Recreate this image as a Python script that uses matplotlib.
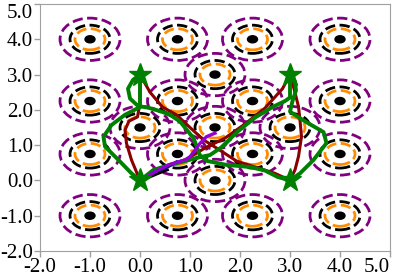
import numpy as np
import matplotlib
matplotlib.use("Agg")
import matplotlib.pyplot as plt
from matplotlib.patches import Circle

plt.rcParams['font.family'] = ['Liberation Serif', 'DejaVu Serif']

# obstacle centres
grid_vals = [-1.0, 0.75, 2.25, 4.0]
inner_x = [1.5, 0.0, 1.5, 3.0, 1.5]
inner_y = [3.0, 1.5, 1.5, 1.5, 0.0]
ring_radius = [0.6, 0.4, 0.3]
ring_color = ['purple', 'black', 'darkorange']
dot_radius = 0.1

# goal stars
star_x = [0, 3, 0, 3]
star_y = [3, 3, 0, 0]

# reference path (dark red)
red_x = [0, -0.17, -0.27, -0.3, -0.22, -0.05, 0, 0, 0.2, 0.45, 0.73, 1.0, 1.27, 1.55,
         1.93, 2.3, 2.7, 3, 3.1, 3.17, 3.23, 3.2, 3.17, 3.08, 3, 2.85, 2.5, 2.1, 1.7,
         1.3, 0.93, 0.6, 0.25, 0]
red_y = [0, 0.58, 1.05, 1.43, 1.68, 1.8, 2.2, 3, 2.5, 2.08, 1.86, 1.5, 1.15, 0.9,
         0.55, 0.38, 0.2, 0, 0.3, 0.68, 1.24, 1.7, 2.09, 2.6, 3, 2.6, 2.05, 1.6, 1.2,
         0.92, 0.6, 0.44, 0.2, 0]

# executed path (green)
green_x = [0.6, 0.43, 0.17, 0, 0, 0, -0.14, -0.24, -0.2, -0.07, 0, -0.3, -0.57, -0.73,
           -0.7, -0.43, -0.17, 0, 0.27, 0.6, 0.93, 1.2, 1.4, 1.62, 1.95, 2.3, 2.65,
           2.9, 3, 3, 3.1, 3.12, 3.05, 3, 3.27, 3.67, 3.73, 3.47, 3.2, 3, 2.75, 2.5,
           2.2, 1.73, 1.35, 1.2, 1.15, 1.07, 0.8, 0.6]
green_y = [1.86, 1.95, 2.06, 2.1, 2.5, 3, 2.85, 2.6, 2.32, 2.15, 2.08, 1.86, 1.57, 1.24,
           0.96, 0.58, 0.2, 0, 0.3, 0.44, 0.56, 0.66, 0.72, 0.93, 1.38, 1.78, 2.08,
           2.25, 2.35, 3, 2.8, 2.55, 2.25, 1.95, 1.7, 1.37, 1.06, 0.58, 0.2, 0, 0.1, 0.28,
           0.38, 0.44, 0.55, 0.7, 0.9, 1.2, 1.67, 1.86]

# short partial paths
purple_x = [0.2, 0.37, 0.57, 0.77, 0.9, 1.0, 1.1, 1.2, 1.33, 1.5]
purple_y = [0.16, 0.3, 0.44, 0.53, 0.58, 0.67, 0.86, 1.05, 1.24, 1.34]
blue_x = [0.2, 0.3, 0.57, 0.73]
blue_y = [0.12, 0.25, 0.39, 0.53]
black_x = [0.05, 0.2, 0.37, 0.55]
black_y = [0.0, 0.1, 0.2, 0.3]

ticks = [-2, -1, 0, 1, 2, 3, 4, 5]

centres = [(gx, gy) for gy in grid_vals for gx in grid_vals] + list(zip(inner_x, inner_y))

fig = plt.figure(figsize=(3.95, 2.79), dpi=100)
ax = fig.add_axes([40 / 395, 28 / 279, 350 / 395, 247 / 279])

for cx, cy in centres:
    for r, c in zip(ring_radius, ring_color):
        ax.add_patch(Circle((cx, cy), r, fill=False, ls='--', lw=2, edgecolor=c))
    ax.add_patch(Circle((cx, cy), dot_radius, color='black'))

ax.plot(red_x, red_y, color='darkred', lw=2.2)
ax.plot(green_x, green_y, color='green', lw=2.8)
ax.plot(black_x, black_y, color='black', lw=2)
ax.plot(blue_x, blue_y, color='navy', lw=2)
ax.plot(purple_x, purple_y, color='darkviolet', lw=2.4)
ax.plot(star_x, star_y, ls='none', marker='*', ms=17, color='green')

ax.set_xlim(-2, 5)
ax.set_ylim(-2, 5)
ax.set_xticks(ticks)
ax.set_yticks(ticks)
ax.set_xticklabels(['%.1f' % t for t in ticks])
ax.set_yticklabels(['%.1f' % t for t in ticks])
ax.tick_params(labelsize=15, length=4, width=1, color='#a0a0a0', pad=1)
# keep the end labels inside the picture
ax.get_xticklabels()[-1].set_horizontalalignment('right')
ax.get_yticklabels()[-1].set_verticalalignment('top')
for s in ax.spines.values():
    s.set_color('#a0a0a0')

fig.savefig('out.png', dpi=100)
